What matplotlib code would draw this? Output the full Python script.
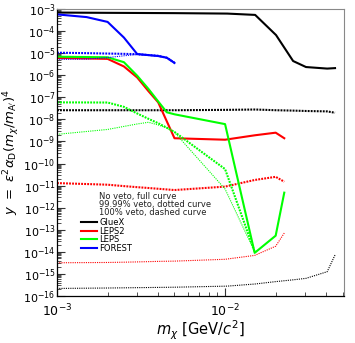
import matplotlib
matplotlib.use('Agg')
import matplotlib.pyplot as plt
from matplotlib.ticker import LogLocator, NullFormatter, FixedLocator

# --- data ---
gluex_x = [0.001, 0.002, 0.005, 0.0103, 0.0151, 0.0201, 0.0254, 0.0303, 0.0405, 0.0451]
gluex_full = [6.9e-4, 6.7e-4, 6.5e-4, 6.2e-4, 5.4e-4, 6.6e-5, 4.4e-6, 2.35e-6, 2.0e-6, 2.1e-6]
gluex_99 = [2.6e-8, 2.6e-8, 2.6e-8, 2.7e-8, 2.8e-8, 2.6e-8, 2.5e-8, 2.4e-8, 2.3e-8, 2.0e-8]
gluex_100 = [2.2e-16, 2.3e-16, 2.5e-16, 2.8e-16, 3.5e-16, 4.5e-16, 5.4e-16, 6.3e-16, 1.26e-15, 7.2e-15]

leps2_x = [0.001, 0.002, 0.0025, 0.003, 0.0035, 0.004, 0.005, 0.01, 0.015, 0.02, 0.0225]
leps2_full = [6.1e-6, 5.5e-6, 2.5e-6, 7.9e-7, 1.9e-7, 5.9e-8, 1.4e-9, 1.2e-9, 1.9e-9, 2.5e-9, 1.4e-9]
leps2_99 = [1.3e-11, 1.1e-11, 9.5e-12, 8.5e-12, 7.8e-12, 7.2e-12, 6.3e-12, 9e-12, 1.8e-11, 2.5e-11, 1.5e-11]
leps2_100 = [3.2e-15, 3.3e-15, 3.4e-15, 3.5e-15, 3.6e-15, 3.7e-15, 3.8e-15, 4.6e-15, 6.9e-15, 1.8e-14, 7.1e-14]

leps_x = [0.001, 0.002, 0.0025, 0.003, 0.0035, 0.004, 0.0045, 0.005, 0.01, 0.015, 0.02, 0.0225]
leps_full = [6.9e-6, 6.5e-6, 3.9e-6, 9.5e-7, 2.4e-7, 6.5e-8, 2.1e-8, 1.7e-8, 6.1e-9, 9e-15, 5.4e-14, 4.8e-12]
leps_dx = [0.001, 0.002, 0.0025, 0.003, 0.0035, 0.004, 0.0045, 0.005, 0.01, 0.015]
leps_99 = [5.9e-8, 5.8e-8, 3.7e-8, 1.85e-8, 1.06e-8, 6.7e-9, 4.2e-9, 2.7e-9, 5.6e-11, 1e-14]
leps_100 = [2.1e-9, 3.5e-9, 4.8e-9, 6.2e-9, 7.4e-9, 5.6e-9, 4.1e-9, 2.6e-9, 7e-12, 1e-14]

forest_x = [0.001, 0.0015, 0.002, 0.0025, 0.003, 0.004, 0.0045, 0.005]
forest_full = [5.7e-4, 4.3e-4, 2.6e-4, 5.1e-5, 9.1e-6, 7.4e-6, 6.2e-6, 3.6e-6]
forest_99 = [1.05e-5, 1.0e-5, 9.6e-6, 9.3e-6, 9.0e-6, 7.6e-6, 6.2e-6, 3.7e-6]
forest_100 = [5.2e-6, 5.4e-6, 6.3e-6, 7.6e-6, 8.7e-6, 7.4e-6, 6.2e-6, 3.6e-6]

notes = ['No veto, full curve', '99.99% veto, dotted curve', '100% veto, dashed curve']

full = dict(lw=1.5, ls='-')
dot99 = dict(lw=1.5, ls=(0, (0.9, 0.55)))
dot100 = dict(lw=0.8, ls=(0, (1.0, 1.0)))

fig = plt.figure(figsize=(3.55, 3.43), dpi=100)
ax = fig.add_axes([57 / 355, 1 - 296 / 343, 287 / 355, 287 / 343])

series = [
    ('GlueX', 'black', gluex_x, gluex_x, gluex_full, gluex_99, gluex_100),
    ('LEPS2', '#ff0000', leps2_x, leps2_x, leps2_full, leps2_99, leps2_100),
    ('LEPS', '#00ff00', leps_x, leps_dx, leps_full, leps_99, leps_100),
    ('FOREST', '#0000ff', forest_x, forest_x, forest_full, forest_99, forest_100),
]
handles = []
for name, col, xf, xd, yf, y99, y100 in series:
    h, = ax.plot(xf, yf, color=col, label=name, **full)
    ax.plot(xd, y99, color=col, **dot99)
    ax.plot(xd, y100, color=col, **dot100)
    handles.append(h)

ax.set_xscale('log')
ax.set_yscale('log')
ax.set_xlim(1e-3, 0.051)
ax.set_ylim(1e-16, 1e-3)

ax.yaxis.set_major_locator(FixedLocator([10.0 ** k for k in range(-16, -2)]))
ax.yaxis.set_minor_locator(LogLocator(base=10, subs=range(2, 10), numticks=100))
ax.yaxis.set_minor_formatter(NullFormatter())
ax.xaxis.set_major_locator(FixedLocator([1e-3, 1e-2]))
ax.xaxis.set_minor_locator(LogLocator(base=10, subs=range(2, 10), numticks=100))
ax.xaxis.set_minor_formatter(NullFormatter())

ax.tick_params(which='both', direction='in', top=False, right=False, color='#333333')
ax.tick_params(axis='y', labelsize=8, pad=1)
ax.tick_params(axis='x', labelsize=9, pad=5)
ax.tick_params(which='major', length=6, width=0.8)
ax.tick_params(which='minor', length=3, width=0.6)

for s in ['top', 'right']:
    ax.spines[s].set_color('#888888')
    ax.spines[s].set_linewidth(0.8)
for s in ['left', 'bottom']:
    ax.spines[s].set_linewidth(0.9)

ax.set_ylabel(r"$y\ =\ \epsilon^{2}\alpha_{\mathrm{D}}(m_{\chi}/m_{\mathrm{A'}})^{4}$", fontsize=9.5)
ax.yaxis.set_label_coords(-0.122, 0.5)
ax.set_xlabel(r"$m_{\chi}$ [GeV/$c^{2}$]", fontsize=10.5)
ax.xaxis.set_label_coords(0.5, -0.08)

for i, t in enumerate(notes):
    fig.text(99 / 355, 1 - (197 + 8 * i) / 343, t, fontsize=6, va='center', ha='left', color='#222222')

ax.legend(handles=handles, loc='upper left', bbox_to_anchor=(81 / 355, 1 - 218 / 343),
          bbox_transform=fig.transFigure, frameon=False, fontsize=6,
          handlelength=1.9, handletextpad=0.3, labelspacing=-0.05, borderpad=0, borderaxespad=0)

fig.savefig('out.png', dpi=100)
